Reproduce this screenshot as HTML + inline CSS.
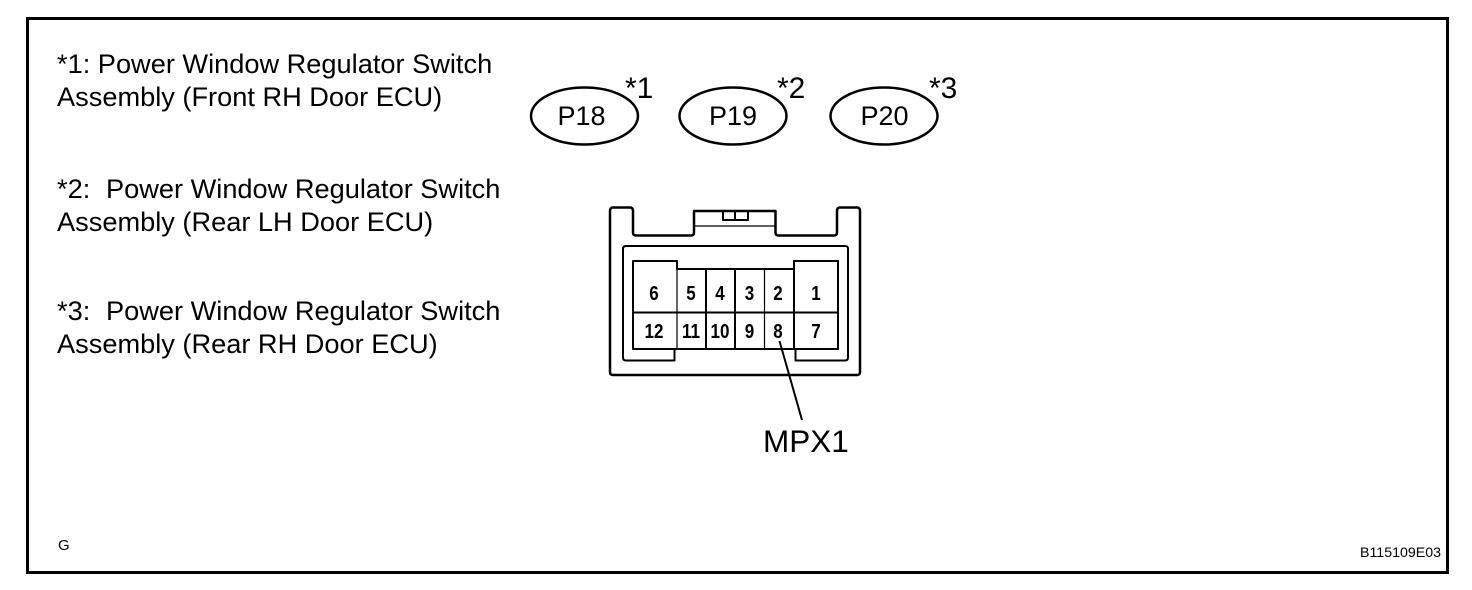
<!DOCTYPE html>
<html><head><meta charset="utf-8"><style>
html,body{margin:0;padding:0;background:#fff}
svg{display:block}
text{font-family:"Liberation Sans",sans-serif;fill:#000}
.t{font-size:27.2px}
.o{font-size:27px;text-anchor:middle}
.s{font-size:30px}
.n{font-size:20px;font-weight:bold;text-anchor:middle}
</style></head><body>
<svg width="1472" height="590" viewBox="0 0 1472 590" xmlns="http://www.w3.org/2000/svg">
<rect x="0" y="0" width="1472" height="590" fill="#fff"/>
<rect x="27.5" y="18.5" width="1420" height="554" fill="none" stroke="#000" stroke-width="3"/>
<text class="t" x="57" y="73">*1: Power Window Regulator Switch</text>
<text class="t" x="57" y="106">Assembly (Front RH Door ECU)</text>
<text class="t" x="57" y="198">*2:</text>
<text class="t" x="106" y="198">Power Window Regulator Switch</text>
<text class="t" x="57" y="231">Assembly (Rear LH Door ECU)</text>
<text class="t" x="57" y="320">*3:</text>
<text class="t" x="106" y="320">Power Window Regulator Switch</text>
<text class="t" x="57" y="353">Assembly (Rear RH Door ECU)</text>
<g fill="none" stroke="#000" stroke-width="2.5">
<ellipse cx="584.5" cy="116" rx="53.5" ry="28.5"/>
<ellipse cx="733" cy="116" rx="53.5" ry="28.5"/>
<ellipse cx="884" cy="116" rx="53.5" ry="28.5"/>
</g>
<text class="o" x="581.500" y="125">P18</text>
<text class="o" x="733" y="125">P19</text>
<text class="o" x="884.500" y="125">P20</text>
<text class="s" x="625" y="98">*1</text>
<text class="s" x="777" y="98">*2</text>
<text class="s" x="929" y="98">*3</text>
<g fill="none" stroke="#000" stroke-linejoin="round">
<path stroke-width="2.5" d="M613 207.5H630Q633 207.5 633 211V232.5Q633 235.5 636 235.5H691Q694 235.5 694 232.5V211H775.5V232.5Q775.5 235.5 778.5 235.5H834Q837 235.5 837 232.5V211Q837 207.5 840 207.5H857Q860 207.5 860 211V372Q860 375 857 375H613Q610 375 610 372V211Q610 207.5 613 207.5Z"/>
<path stroke-width="1.2" d="M694 226H776"/>
<path stroke-width="2" d="M723 211V220H748V211M735 211V220"/>
<path stroke-width="2" d="M674.5 349V360.5H626Q623 360.5 623 357.5V249Q623 246 626 246H845Q848 246 848 249V357.5Q848 360.5 845 360.5H795.5V349"/>
<path stroke-width="2" d="M633 261H677V269H794V261H838V349H633Z"/>
<path stroke-width="2" d="M633 312.5H838M706 269V349M735 269V349M794 261V349"/>
<path stroke-width="1.2" d="M677 269V349M764.500 269V349"/>
<path stroke-width="2" d="M779.500 341L802 420"/>
</g>
<text class="n" transform="translate(654 300) scale(.85 1)">6</text>
<text class="n" transform="translate(691 300) scale(.85 1)">5</text>
<text class="n" transform="translate(720 300) scale(.85 1)">4</text>
<text class="n" transform="translate(749.500 300) scale(.85 1)">3</text>
<text class="n" transform="translate(778 300) scale(.85 1)">2</text>
<text class="n" transform="translate(816 300) scale(.85 1)">1</text>
<text class="n" transform="translate(654 338) scale(.85 1)">12</text>
<text class="n" transform="translate(691 338) scale(.85 1)">11</text>
<text class="n" transform="translate(720 338) scale(.85 1)">10</text>
<text class="n" transform="translate(749.500 338) scale(.85 1)">9</text>
<text class="n" transform="translate(778 338) scale(.85 1)">8</text>
<text class="n" transform="translate(816 338) scale(.85 1)">7</text>
<text x="763" y="452" style="font-size:31.500px">MPX1</text>
<text x="58" y="550" style="font-size:15px">G</text>
<text x="1441" y="557" style="font-size:14.200px;text-anchor:end">B115109E03</text>
</svg>
</body></html>
